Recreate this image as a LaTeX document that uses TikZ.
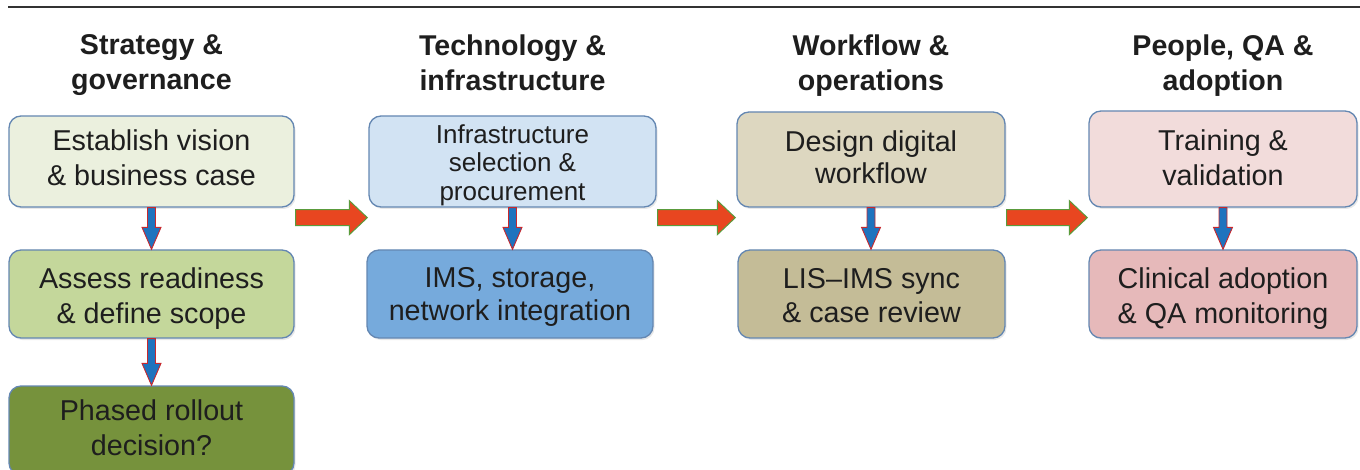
\documentclass[tikz,border=0pt]{standalone}
\usepackage{fontspec}
\setmainfont{Liberation Sans}
\usetikzlibrary{calc,shadows}
\definecolor{boxline}{RGB}{100,135,178}
\definecolor{txt}{RGB}{30,30,30}
\definecolor{cA1}{RGB}{235,240,222}
\definecolor{cA2}{RGB}{196,215,155}
\definecolor{cA3}{RGB}{118,146,60}
\definecolor{cB1}{RGB}{210,227,243}
\definecolor{cB2}{RGB}{118,170,220}
\definecolor{cC1}{RGB}{221,215,192}
\definecolor{cC2}{RGB}{196,188,151}
\definecolor{cD1}{RGB}{242,220,219}
\definecolor{cD2}{RGB}{230,185,186}
\definecolor{redfill}{RGB}{232,70,32}
\definecolor{greenline}{RGB}{90,155,60}
\definecolor{bluefill}{RGB}{30,115,190}
\definecolor{redline}{RGB}{200,40,45}
\newcommand\hblock[2]{\draw[harrowst] let \p1=(#1.east), \p2=(#2.west), \p3=(#1.south) in
  (\x1+1pt,\y3-2pt) -- (\x2-19pt,\y3-2pt) -- (\x2-19pt,\y3+7pt) -- (\x2-1pt,\y3-10pt)
  -- (\x2-19pt,\y3-27pt) -- (\x2-19pt,\y3-18pt) -- (\x1+1pt,\y3-18pt) -- cycle;}
\newcommand\vblock[2]{\draw[varrowst] let \p1=(#1.south), \p2=(#2.north) in
  (\x1-4pt,\y1) -- (\x1-4pt,\y2+22pt) -- (\x1-9.5pt,\y2+22pt) -- (\x1,\y2)
  -- (\x1+9.5pt,\y2+22pt) -- (\x1+4pt,\y2+22pt) -- (\x1+4pt,\y1) -- cycle;}
\newcommand\fs[2]{\fontsize{#1}{#2}\selectfont}
\begin{document}
\begin{tikzpicture}[x=1pt,y=-1pt,
  box/.style={draw=boxline, line width=1.3pt, rounded corners=12pt, inner sep=0pt,
    drop shadow={opacity=0.18, shadow xshift=1.5pt, shadow yshift=-2pt}},
  btext/.style={align=center, text=txt, inner sep=0pt, anchor=north},
  head/.style={font=\bfseries\fs{28.6}{35}, align=center,
    anchor=north, inner sep=0pt, text=txt},
  harrowst/.style={fill=redfill, draw=greenline, line width=1pt, line join=miter},
  varrowst/.style={fill=bluefill, draw=redline, line width=0.9pt, line join=miter}]
\useasboundingbox (0,0) rectangle (1360,470);
\draw[line width=2pt, draw=black!80] (8,7) -- (1360,7);
% headers
\node[head] (h1) at (151.5,34.2) {Strategy \&\\governance};
\node[head] (h2) at (512.5,34.2) {Technology \&\\infrastructure};
\node[head] (h3) at (871,34.2) {Workflow \&\\operations};
\node[head] (h4) at (1223,34.2) {People, QA \&\\adoption};
% boxes
\node[box, fill=cA1, minimum width=285pt, minimum height=91pt] (b11) at (151.5,161.5) {};
\node[box, fill=cA2, minimum width=285pt, minimum height=88pt] (b12) at (151.5,294) {};
\node[box, fill=cA3, minimum width=285pt, minimum height=89pt] (b13) at (151.5,430.5) {};
\node[box, fill=cB1, minimum width=287pt, minimum height=91pt] (b21) at (512.5,161.5) {};
\node[box, fill=cB2, minimum width=286pt, minimum height=88pt] (b22) at (510,294) {};
\node[box, fill=cC1, minimum width=268pt, minimum height=95pt] (b31) at (871,159.5) {};
\node[box, fill=cC2, minimum width=267pt, minimum height=88pt] (b32) at (871.5,294) {};
\node[box, fill=cD1, minimum width=268pt, minimum height=96pt] (b41) at (1223,159) {};
\node[box, fill=cD2, minimum width=268pt, minimum height=88pt] (b42) at (1223,294) {};
% box texts
\node[btext, font=\fs{28.7}{35}] (t11) at (151.5,130) {Establish vision\\\& business case};
\node[btext, font=\fs{28.7}{35}] (t12) at (151.5,268) {Assess readiness\\\& define scope};
\node[btext, font=\fs{28.7}{35}] (t13) at (151.5,400) {Phased rollout\\decision?};
\node[btext, font=\fs{26}{28.5}] (t21) at (512.5,124) {Infrastructure\\selection \&\\procurement};
\node[btext, font=\fs{28.7}{33}] (t22) at (510,267) {IMS, storage,\\network integration};
\node[btext, font=\fs{28.7}{32}] (t31) at (871,131) {Design digital\\workflow};
\node[btext, font=\fs{28.7}{34}] (t32) at (871.5,268) {LIS--IMS sync\\\& case review};
\node[btext, font=\fs{28.7}{35}] (t41) at (1223,130) {Training \&\\validation};
\node[btext, font=\fs{28.7}{35}] (t42) at (1223,268) {Clinical adoption\\\& QA monitoring};
% arrows
\hblock{b11}{b21}
\hblock{b21}{b31}
\hblock{b31}{b41}
\vblock{b11}{b12}
\vblock{b12}{b13}
\vblock{b21}{b22}
\vblock{b31}{b32}
\vblock{b41}{b42}
\end{tikzpicture}
\end{document}
